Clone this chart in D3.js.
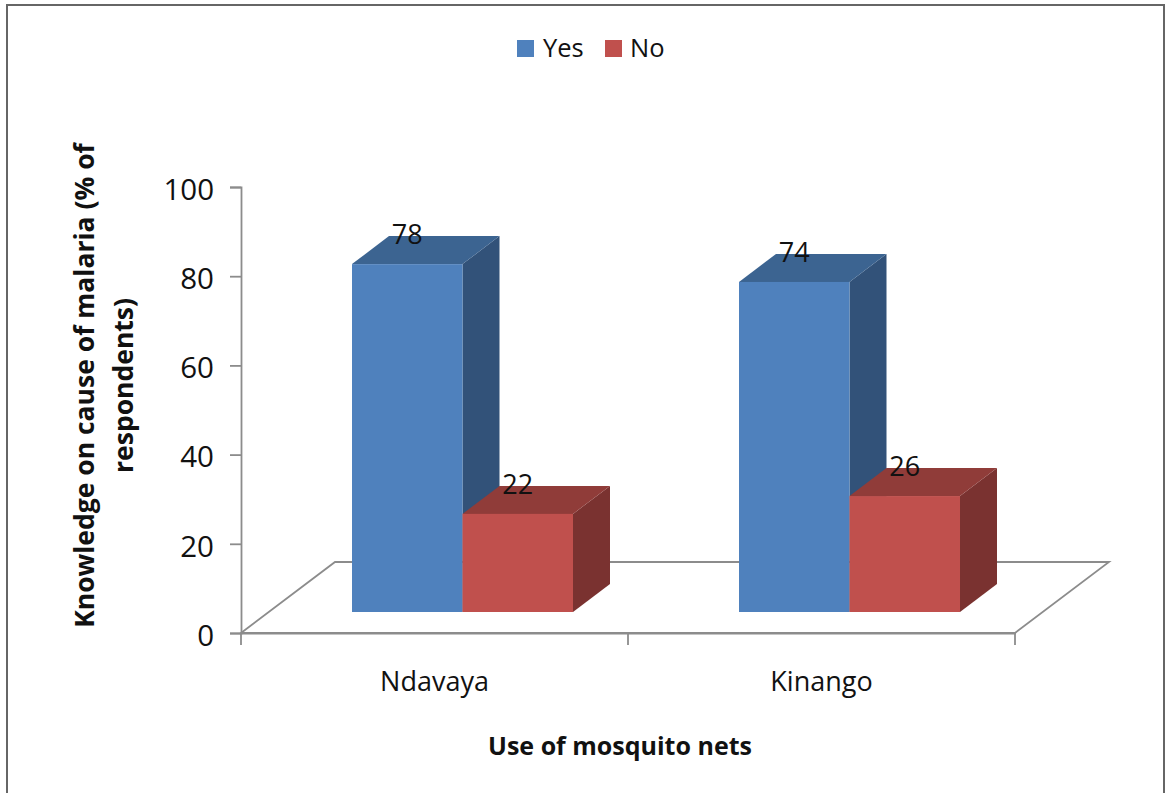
<!DOCTYPE html>
<html><head><meta charset="utf-8">
<script src="https://cdn.jsdelivr.net/npm/d3@7"></script>
<style>html,body{margin:0;padding:0;background:#fff}svg{display:block}text{font-family:"Open Sans",Lato,sans-serif;fill:#111}</style>
</head><body><svg id="c" width="1165" height="793"></svg>
<script>
const categories = ["Ndavaya", "Kinango"];
const seriesNames = ["Yes", "No"];
const yesValues = [78, 74];
const noValues = [22, 26];
const yTicks = [0, 20, 40, 60, 80, 100];
const yTitleLines = ["Knowledge on cause of malaria (% of", "respondents)"];
const xTitle = "Use of mosquito nets";
const seriesValues = [yesValues, noValues];
const palette = {Yes:{front:"#4f81bd",top:"#3c6491",side:"#325279"},No:{front:"#c0504d",top:"#903c39",side:"#7a3230"}};

const W=1165,H=793, left=241,right=1015,y0=633,y100=187;
const depth={dx:37,dy:-28}, floor={dx:94,dy:-71}, lift=21;
const svg=d3.select("#c");
const grey="#8c8c8c";

svg.append("path").attr("d",`M7,${H}V5H1164V${H}`).attr("fill","none").attr("stroke","#666").attr("stroke-width",2);

const x0=d3.scaleBand().domain(categories).range([left,right]);
const x1=d3.scaleBand().domain(seriesNames).range([111,332]);
const y=d3.scaleLinear().domain([0,100]).range([y0,y100]);

svg.append("path").attr("d",`M${left},${y0}L${left+floor.dx},${y0+floor.dy}H${right+floor.dx}L${right},${y0}Z`)
  .attr("fill","none").attr("stroke",grey).attr("stroke-width",1.8);

const ay=svg.append("g").attr("transform",`translate(${left},0)`).call(d3.axisLeft(y).tickValues(yTicks).tickSize(11).tickPadding(16));
ay.selectAll("line,path").attr("stroke",grey).attr("stroke-width",1.8);
ay.selectAll("text").attr("font-size",29.5).attr("dy","0.42em").style("font-family","'Open Sans'").attr("fill","#111");
const ax=svg.append("g").attr("transform",`translate(0,${y0})`).call(d3.axisBottom(x0).tickSizeOuter(0).tickSize(0).tickPadding(39));
ax.select("path").attr("stroke",grey).attr("stroke-width",1.8);
ax.selectAll("text").attr("font-size",27).style("font-family","'Open Sans'").attr("fill","#111");
const tickPos=[0,1,2].map(i=>x0.range()[0]+i*x0.bandwidth());
svg.selectAll("line.ct").data(tickPos).join("line").attr("class","ct").attr("x1",d=>d).attr("x2",d=>d)
  .attr("y1",y0).attr("y2",y0+12).attr("stroke",grey).attr("stroke-width",1.8);

categories.forEach((cat,ci)=>{
  seriesNames.forEach((s,si)=>{
    const v=seriesValues[si][ci], c=palette[s];
    const xl=x0(cat)+x1(s), xr=xl+x1.bandwidth();
    const yb=y(0)-lift, yt=y(v)-lift, {dx,dy}=depth;
    const g=svg.append("g");
    g.append("path").attr("d",`M${xr},${yt}l${dx},${dy}V${yb+dy}L${xr},${yb}Z`).attr("fill",c.side);
    g.append("path").attr("d",`M${xl},${yt}l${dx},${dy}H${xr+dx}L${xr},${yt}Z`).attr("fill",c.top);
    g.append("rect").attr("x",xl).attr("y",yt).attr("width",xr-xl).attr("height",yb-yt).attr("fill",c.front);
  });
});
categories.forEach((cat,ci)=>{
  seriesNames.forEach((s,si)=>{
    const v=seriesValues[si][ci];
    svg.append("text").attr("x",x0(cat)+x1(s)+x1.bandwidth()/2).attr("y",y(v)-lift-20)
      .attr("text-anchor","middle").attr("font-size",27).text(v);
  });
});

const yt=svg.append("g").attr("transform","translate(0,385.5) rotate(-90)");
yt.selectAll("text").data(yTitleLines).join("text").attr("x",0).attr("y",(d,i)=>94+i*39)
  .attr("text-anchor","middle").attr("font-size",26.5).attr("font-weight",700).text(d=>d);
svg.append("text").attr("x",620).attr("y",755).attr("text-anchor","middle").attr("font-size",25).attr("font-weight",700).text(xTitle);

const lgX={Yes:517,No:605};
seriesNames.forEach(s=>{
  svg.append("rect").attr("x",lgX[s]).attr("y",40).attr("width",17).attr("height",17).attr("fill",palette[s].front);
  svg.append("text").attr("x",lgX[s]+(s==="Yes"?26:25)).attr("y",57).attr("font-size",25.5).text(s);
});
</script></body></html>
